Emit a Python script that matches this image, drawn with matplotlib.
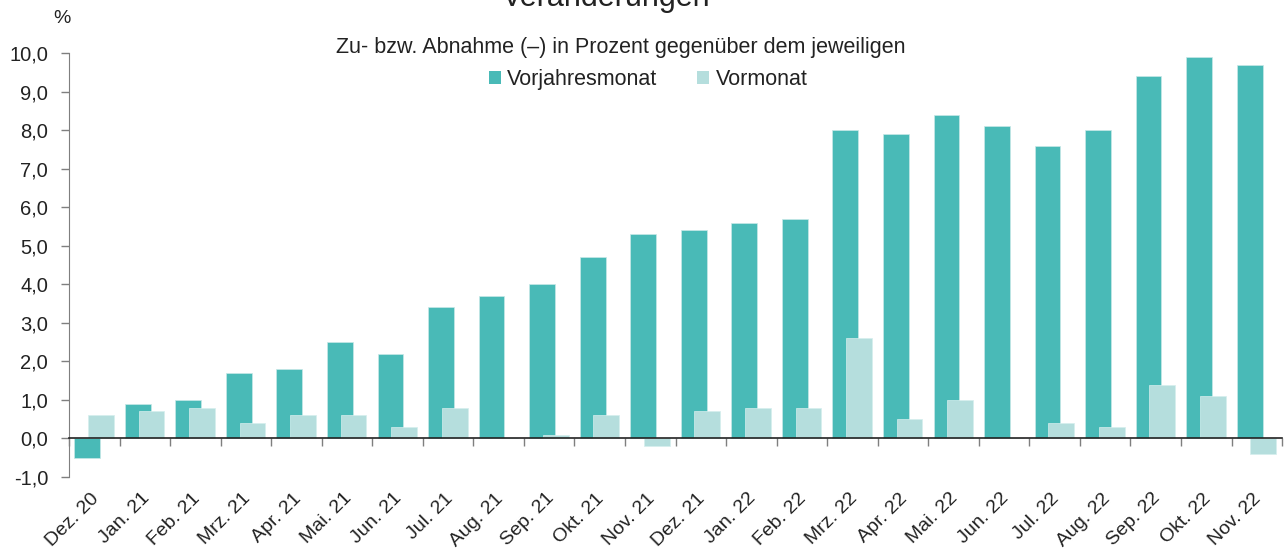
import matplotlib
matplotlib.use('Agg')
from matplotlib import pyplot as plt
from matplotlib.patches import Patch
from matplotlib.transforms import ScaledTranslation
import numpy as np

plt.rcParams['font.family'] = ['Liberation Sans', 'DejaVu Sans']

months = ['Dez. 20', 'Jan. 21', 'Feb. 21', 'Mrz. 21', 'Apr. 21', 'Mai. 21', 'Jun. 21',
          'Jul. 21', 'Aug. 21', 'Sep. 21', 'Okt. 21', 'Nov. 21', 'Dez. 21', 'Jan. 22',
          'Feb. 22', 'Mrz. 22', 'Apr. 22', 'Mai. 22', 'Jun. 22', 'Jul. 22', 'Aug. 22',
          'Sep. 22', 'Okt. 22', 'Nov. 22']
vorjahresmonat = [-0.5, 0.9, 1.0, 1.7, 1.8, 2.5, 2.2, 3.4, 3.7, 4.0, 4.7, 5.3,
                  5.4, 5.6, 5.7, 8.0, 7.9, 8.4, 8.1, 7.6, 8.0, 9.4, 9.9, 9.7]
vormonat = [0.6, 0.7, 0.8, 0.4, 0.6, 0.6, 0.3, 0.8, 0.0, 0.1, 0.6, -0.2,
            0.7, 0.8, 0.8, 2.6, 0.5, 1.0, 0.0, 0.4, 0.3, 1.4, 1.1, -0.4]
yticks = np.arange(-1, 11, 1)

dark = '#49bab7'
light = '#b5dedd'
grey = '#7f7f7f'
txt = '#222222'

fig = plt.figure(figsize=(12.85, 5.5), dpi=100)
ax = fig.add_axes([0.0537, 0.1327, 0.944, 0.7709])

x = np.arange(len(months))
ax.bar(x - 0.14, vorjahresmonat, width=0.51, color=dark, edgecolor='#c8e8e7', linewidth=0.5, zorder=2)
ax.bar(x + 0.13, vormonat, width=0.51, color=light, edgecolor='#d5eeed', linewidth=0.5, zorder=3)

ax.set_xlim(-0.5, len(months) - 0.5)
ax.set_ylim(-1, 10)

# spine position first, it resets the ticks
ax.spines['top'].set_visible(False)
ax.spines['right'].set_visible(False)
ax.spines['bottom'].set_position(('data', 0))
ax.spines['bottom'].set_color('#222222')
ax.spines['bottom'].set_linewidth(1.2)
ax.spines['left'].set_color(grey)
ax.spines['left'].set_zorder(4)
ax.spines['bottom'].set_zorder(4)

ax.tick_params(axis='x', which='major', length=0, pad=37)
ax.tick_params(axis='x', which='minor', length=6, direction='out', color=grey, width=1)
ax.tick_params(axis='y', length=6, direction='out', color=grey, width=1, pad=9)

ax.set_yticks(yticks)
ax.set_yticklabels([f'{v:.1f}'.replace('.', ',') for v in yticks], fontsize=14.5, color=txt)
ax.set_xticks(x)
ax.set_xticklabels(months, rotation=45, ha='right', va='top', rotation_mode='anchor',
                   fontsize=14, color=txt)
ax.set_xticks(np.arange(-0.5, len(months)), minor=True)
shift = ScaledTranslation(-4 / 100, 0, fig.dpi_scale_trans)
for lab in ax.get_xticklabels():
    lab.set_transform(lab.get_transform() + shift)

fig.text(0.0482, 0.967, '%', fontsize=14, color=txt, ha='center', va='center')
fig.text(0.472, 1 - 6 / 550, 'Veränderungen', fontsize=22, color=txt, ha='center', va='baseline')
fig.text(0.483, 0.9145, 'Zu- bzw. Abnahme (–) in Prozent gegenüber dem jeweiligen',
         fontsize=15.5, color=txt, ha='center', va='center')

handles = [Patch(facecolor=dark, label='Vorjahresmonat'),
           Patch(facecolor=light, label='Vormonat')]
fig.legend(handles=handles, loc='center', bbox_to_anchor=(0.5045, 0.855), ncol=2,
           frameon=False, fontsize=15.5, handlelength=0.55, handleheight=0.55,
           handletextpad=0.3, columnspacing=1.85, labelcolor=txt)

fig.savefig('out.png', dpi=100)
